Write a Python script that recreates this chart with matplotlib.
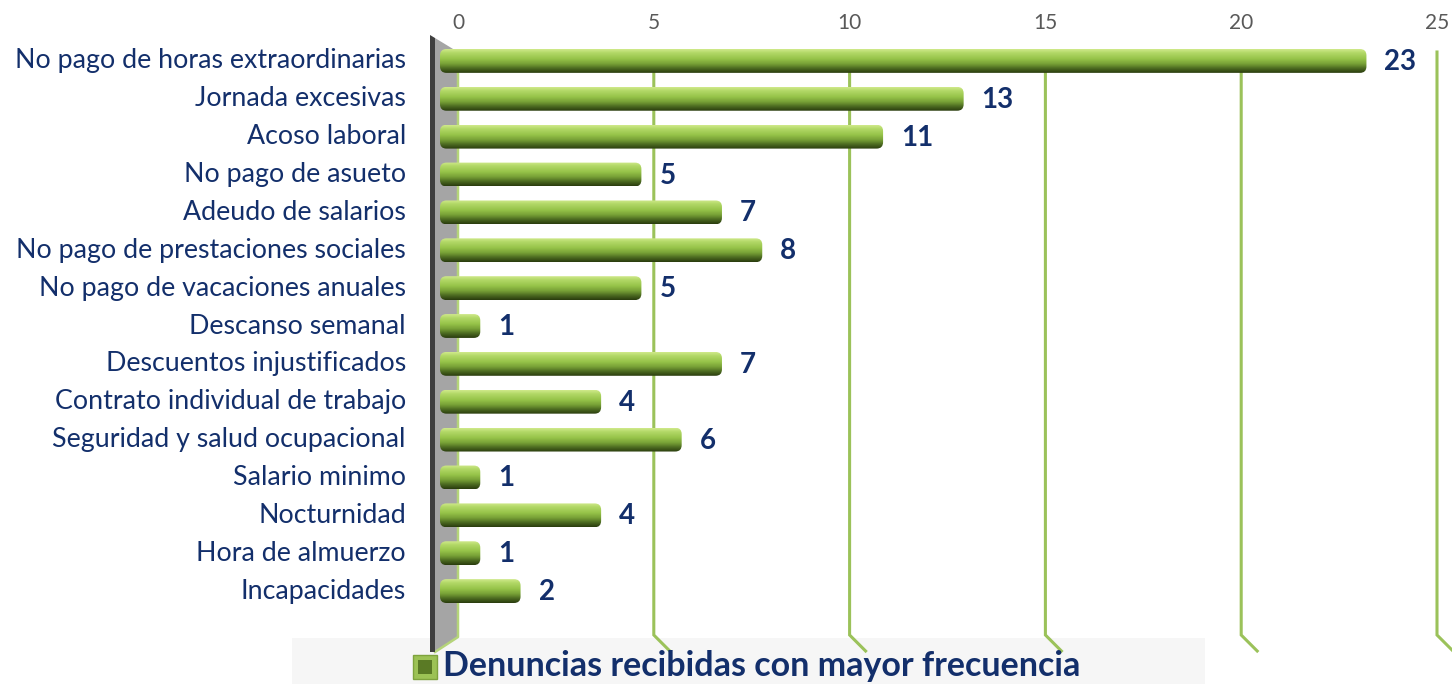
import numpy as np
import matplotlib
matplotlib.use('Agg')
import matplotlib.pyplot as plt
from matplotlib.patches import FancyBboxPatch, Polygon, Rectangle
from matplotlib.lines import Line2D
from matplotlib.transforms import Affine2D
from matplotlib.colors import LinearSegmentedColormap

# datos
categorias = [
    "No pago de horas extraordinarias",
    "Jornada excesivas",
    "Acoso laboral",
    "No pago de asueto",
    "Adeudo de salarios",
    "No pago de prestaciones sociales",
    "No pago de vacaciones anuales",
    "Descanso semanal",
    "Descuentos injustificados",
    "Contrato individual de trabajo",
    "Seguridad y salud ocupacional",
    "Salario minimo",
    "Nocturnidad",
    "Hora de almuerzo",
    "Incapacidades",
]
valores = [23, 13, 11, 5, 7, 8, 5, 1, 7, 4, 6, 1, 4, 1, 2]
ticks_x = [0, 5, 10, 15, 20, 25]
titulo_leyenda = "Denuncias recibidas con mayor frecuencia"

W, H = 1452, 684
NAVY = '#132f6b'
GRID = '#9bc25a'

plt.rcParams['font.family'] = ['Lato', 'DejaVu Sans']

fig = plt.figure(figsize=(W / 100, H / 100), dpi=100)
fig.patch.set_facecolor('white')

# transformacion en pixeles (origen arriba a la izquierda)
px = Affine2D().scale(1.0 / W, -1.0 / H).translate(0, 1) + fig.transFigure

def rect(l, t, r, b):
    return [l / W, 1 - b / H, (r - l) / W, (b - t) / H]

# --- plano de fondo: ticks y lineas de la cuadricula ---
axb = fig.add_axes(rect(458, 52, 1437, 635))
axb.set_zorder(-2)
axb.set_xlim(0, 25)
axb.set_ylim(0, 1)
axb.set_xticks(ticks_x)
axb.xaxis.tick_top()
axb.tick_params(axis='x', length=0, pad=14, labelsize=15, labelcolor='#595959')
axb.set_yticks([])
for s in axb.spines.values():
    s.set_visible(False)
axb.patch.set_alpha(0)
dx = 16 / (979 / 25)
dy = 16 / 583
for v in ticks_x[1:]:
    axb.plot([v, v, v + dx], [1, 0, -dy], color=GRID, lw=2.2, clip_on=False,
             solid_joinstyle='miter')

# leyenda: fondo
fig.add_artist(Rectangle((292, 638), 913, 46, facecolor='#f6f6f6',
                         edgecolor='none', transform=px, zorder=-3))

# pared lateral gris
fig.add_artist(Polygon([(435, 38), (458, 52), (458, 637), (435, 652)],
                       closed=True, facecolor='#a5a5a5', edgecolor='none',
                       transform=px, zorder=-1))
fig.add_artist(Line2D([458, 458, 435], [52, 637, 652], color='#b5d47a', lw=1.8,
                      transform=px, zorder=-1))
fig.add_artist(Polygon([(430, 35), (435, 38), (435, 652), (430, 652)],
                       closed=True, facecolor='#3f3f3f', edgecolor='none',
                       transform=px, zorder=-1))

# --- barras al frente ---
ax = fig.add_axes(rect(440, 42, 1447, 610))
ax.set_zorder(1)
n = len(categorias)
ax.axis('off')
ax.patch.set_alpha(0)

grad_cmap = LinearSegmentedColormap.from_list(
    'verde', [(0.0, '#cfe98a'), (0.15, '#b2d867'), (0.4, '#97c44a'),
              (0.62, '#77a036'), (0.82, '#4a6820'), (1.0, '#2a3c0e')])
grad = np.linspace(0, 1, 64).reshape(-1, 1)

alto = 0.63
ys = [n - 1 - i for i in range(n)]
for y, v, cat in zip(ys, valores, categorias):
    caja = FancyBboxPatch((0, y - alto / 2), v, alto,
                          boxstyle='round,pad=0,rounding_size=0.16',
                          mutation_aspect=1.06,
                          facecolor='none', edgecolor='none')
    ax.add_patch(caja)
    im = ax.imshow(grad, cmap=grad_cmap, aspect='auto', origin='upper',
                   extent=(0, v, y - alto / 2, y + alto / 2),
                   interpolation='bilinear', zorder=2)
    im.set_clip_path(caja)
    ax.annotate(str(v), xy=(v, y), xytext=(18, -1), textcoords='offset pixels',
                ha='left', va='center', fontsize=20, fontweight='bold',
                color=NAVY)
    ax.text(-0.85, y, cat, ha='right', va='center', fontsize=19.3, color=NAVY,
            clip_on=False)
ax.set_xlim(0, 25)
ax.set_ylim(-0.5, n - 0.5)

# leyenda: marcador y texto
fig.add_artist(Rectangle((413, 655), 24, 24, facecolor='#9cc255',
                         edgecolor='#7ea33d', lw=1, transform=px))
fig.add_artist(Rectangle((418, 660), 14, 14, facecolor='#5a7a25',
                         edgecolor='none', transform=px))
fig.text(443 / W, 1 - 666 / H, titulo_leyenda, ha='left', va='center',
         fontsize=24.5, fontweight='bold', color=NAVY)

fig.savefig('out.png', dpi=100)
